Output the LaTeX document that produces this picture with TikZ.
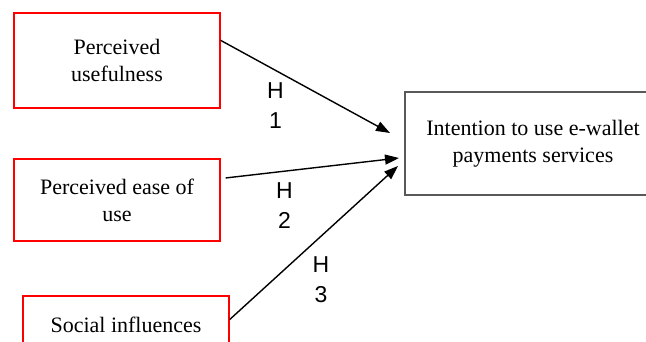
\documentclass[tikz,border=0pt]{standalone}
\usepackage{fontspec}
\setmainfont{Liberation Serif}
\newfontfamily\labelfont{Liberation Sans}
\usetikzlibrary{arrows.meta}

\begin{document}
\begin{tikzpicture}[x=1pt,y=-1pt,
    var/.style={draw=red, line width=1.3pt, inner sep=0pt, align=center,
        minimum width=206pt, font=\fontsize{22}{27}\selectfont},
    hyp/.style={align=center, inner sep=0pt, font=\labelfont\fontsize{23}{30}\selectfont},
    link/.style={line width=1.4pt, -{Triangle[length=14pt,width=10pt]}}]
    \useasboundingbox (0,0) rectangle (646,342);

    \coordinate (C1) at (117, 60.5);
    \coordinate (C2) at (117, 200);
    \coordinate (C3) at (126, 325);
    \coordinate (C4) at (533, 143.5);
    \coordinate (T1) at (390, 133);
    \coordinate (T2) at (399, 158);
    \coordinate (T3) at (398, 166);

    \node[var, minimum height=95pt] (pu) at (C1) {Perceived\\usefulness}; % H1
    \node[var, minimum height=82pt] (pe) at (C2) {Perceived ease of\\use}; % H2
    \node[var, minimum height=58pt] (si) at (C3) {Social influences}; % H3
    \node[draw=black!65, line width=1.3pt, inner sep=0pt, align=center,
        minimum width=256pt, minimum height=103pt,
        font=\fontsize{22}{27}\selectfont] (iu) at (C4)
        {Intention to use e-wallet\\payments services};

    \draw[link] (pu.11) -- (T1);
    \draw[link] ([xshift=5pt]pe.12.6) -- (T2);
    \draw[link] (si.3) -- (T3);

    \node[hyp] (h1) at (275.5, 105.5) {H\\1};
    \node[hyp] (h2) at (284.5, 205.5) {H\\2};
    \node[hyp] (h3) at (321, 279.5) {H\\3};

\end{tikzpicture}
\end{document}
